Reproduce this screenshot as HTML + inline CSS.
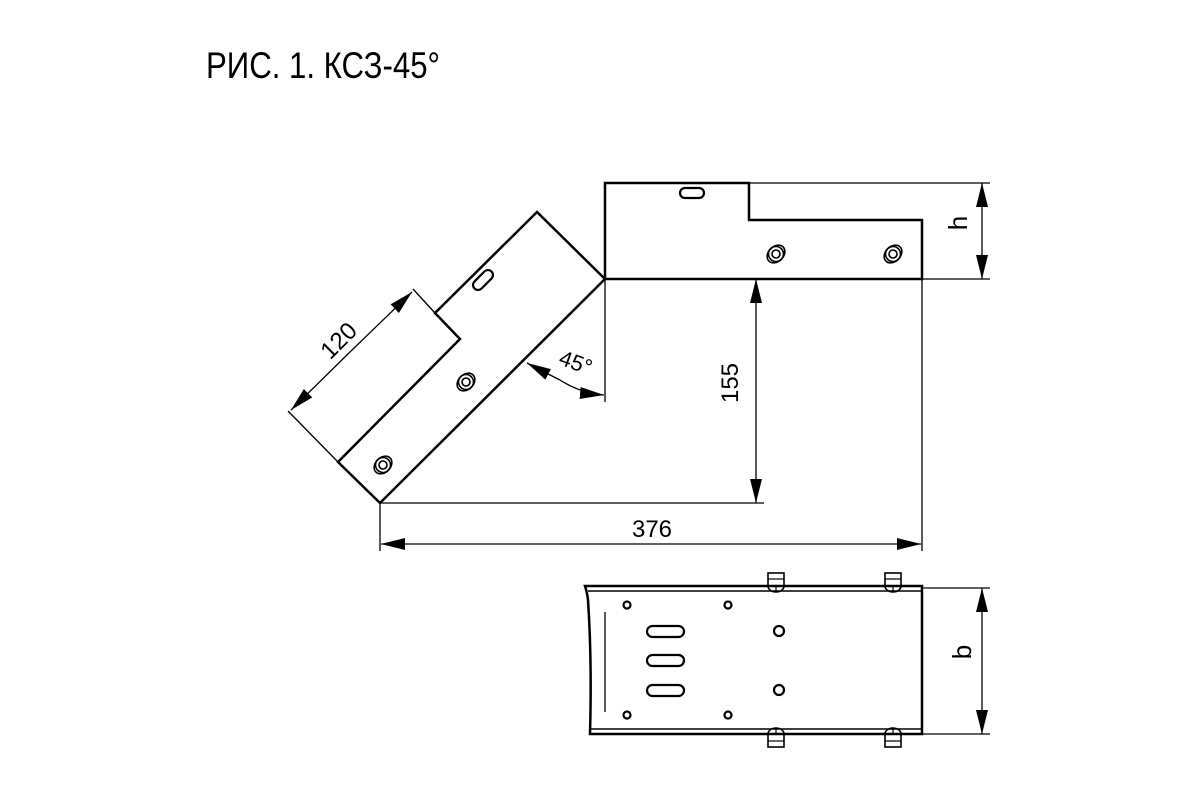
<!DOCTYPE html>
<html><head><meta charset="utf-8"><style>html,body{margin:0;padding:0;background:#fff}svg{display:block}</style></head>
<body>
<svg width="1200" height="800" viewBox="0 0 1200 800" xmlns="http://www.w3.org/2000/svg" font-family="Liberation Sans, DejaVu Sans, sans-serif">
<defs>
<marker id="a" viewBox="0 0 24 12" refX="24" refY="6" markerWidth="24" markerHeight="12" markerUnits="userSpaceOnUse" orient="auto"><path d="M0,0 L24,6 L0,12 Z" fill="#000"/></marker>
<g id="bolt"><ellipse cx="0" cy="0" rx="10" ry="7.5" fill="none" stroke="#000" stroke-width="1.6" transform="rotate(-45)"/><circle r="7.5" fill="none" stroke="#000" stroke-width="1.6"/><circle r="4" fill="none" stroke="#000" stroke-width="1.6"/></g>
<g id="nut"><rect x="-8" y="-9" width="16" height="13" fill="none" stroke="#000" stroke-width="1.6"/><line x1="-8" y1="-3" x2="8" y2="-3" stroke="#000" stroke-width="1.2"/><path d="M-8,4 A8,6 0 0 0 8,4" fill="none" stroke="#000" stroke-width="1.6"/><line x1="0" y1="4" x2="0" y2="9" stroke="#000" stroke-width="1.2"/></g>
</defs>
<text x="206" y="78" font-size="37" textLength="234" lengthAdjust="spacingAndGlyphs">РИС. 1. КСЗ-45°</text>

<g fill="none" stroke="#000" stroke-width="2.5" stroke-linejoin="miter">
<path d="M537,212 L605,279 L380,503 L338,462 L460,339 L435,313 Z"/>
<path d="M605,279 L605,183 L749,183 L749,220 L922,220 L922,279 Z"/>
</g>
<rect x="680" y="188" width="24" height="10" rx="5" fill="none" stroke="#000" stroke-width="2.2"/>
<rect x="471" y="275" width="24" height="10" rx="5" fill="none" stroke="#000" stroke-width="2.2" transform="rotate(-45 483 280)"/>
<use href="#bolt" x="466" y="382"/>
<use href="#bolt" x="383" y="465"/>
<use href="#bolt" x="776" y="254"/>
<use href="#bolt" x="893" y="254"/>

<g stroke="#000" stroke-width="1.3" fill="none">
<line x1="749" y1="183" x2="990" y2="183"/>
<line x1="922" y1="279" x2="990" y2="279"/>
<line x1="982" y1="231" x2="982" y2="183" marker-end="url(#a)"/>
<line x1="982" y1="231" x2="982" y2="279" marker-end="url(#a)"/>
<line x1="605" y1="279" x2="605" y2="402"/>
<line x1="380" y1="503" x2="764" y2="503"/>
<line x1="756" y1="391" x2="756" y2="279" marker-end="url(#a)"/>
<line x1="756" y1="391" x2="756" y2="503" marker-end="url(#a)"/>
<line x1="380" y1="503" x2="380" y2="551"/>
<line x1="922" y1="279" x2="922" y2="551"/>
<line x1="651" y1="544" x2="381" y2="544" marker-end="url(#a)"/>
<line x1="651" y1="544" x2="921" y2="544" marker-end="url(#a)"/>
<line x1="435" y1="313" x2="413" y2="289"/>
<line x1="338" y1="462" x2="288" y2="411"/>
<line x1="351" y1="351" x2="412" y2="292" marker-end="url(#a)"/>
<line x1="351" y1="351" x2="291" y2="410" marker-end="url(#a)"/>
<path d="M560,380 Q580,393 604,395" marker-end="url(#a)"/>
<path d="M560,380 Q540,370 527,363" marker-end="url(#a)"/>
</g>
<text x="338" y="349" font-size="24" text-anchor="middle" transform="rotate(-45 338 340)">120</text>
<text x="576" y="370" font-size="22" text-anchor="middle" transform="rotate(20 576 362)">45°</text>
<text x="746" y="391" font-size="24" text-anchor="middle" transform="rotate(-90 738 391)">155</text>
<text x="652" y="537" font-size="24" text-anchor="middle">376</text>
<text x="970" y="236" font-size="26" text-anchor="middle" transform="rotate(-90 962 231)">h</text>

<g fill="none" stroke="#000">
<path d="M585,586 L922,586 L922,734 L590,734 Q592,660 588,600 Q587,592 585,586 Z" stroke-width="2.5"/>
<line x1="588" y1="591" x2="922" y2="591" stroke-width="1.5"/>
<line x1="591" y1="729" x2="922" y2="729" stroke-width="1.5"/>
<line x1="605" y1="612" x2="605" y2="712" stroke-width="1.3"/>
<g stroke-width="2.2">
<circle cx="627" cy="605" r="3.5"/><circle cx="728" cy="605" r="3.5"/>
<circle cx="627" cy="715" r="3.5"/><circle cx="728" cy="715" r="3.5"/>
<rect x="647" y="626" width="37" height="11" rx="5.5"/>
<rect x="647" y="655" width="37" height="11" rx="5.5"/>
<rect x="647" y="685" width="37" height="11" rx="5.5"/>
<circle cx="779" cy="631" r="5"/><circle cx="779" cy="690" r="5"/>
</g>
</g>
<use href="#nut" x="776" y="582"/>
<use href="#nut" x="893" y="582"/>
<use href="#nut" x="776" y="738" transform="rotate(180 776 738)"/>
<use href="#nut" x="893" y="738" transform="rotate(180 893 738)"/>
<g stroke="#000" stroke-width="1.3">
<line x1="922" y1="588" x2="990" y2="588"/>
<line x1="922" y1="734" x2="990" y2="734"/>
<line x1="982" y1="661" x2="982" y2="588" marker-end="url(#a)"/>
<line x1="982" y1="661" x2="982" y2="734" marker-end="url(#a)"/>
</g>
<text x="972" y="667" font-size="26" text-anchor="middle" transform="rotate(-90 964 660)">b</text>
</svg>
</body></html>
